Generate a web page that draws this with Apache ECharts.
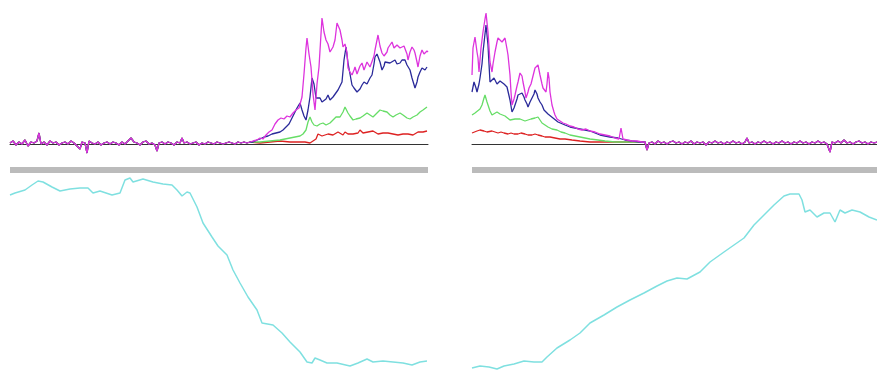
<!DOCTYPE html>
<html>
<head>
<meta charset="utf-8">
<script src="https://cdn.jsdelivr.net/npm/echarts@6/dist/echarts.min.js"></script>
<style>
  html, body { margin: 0; padding: 0; background: #fff; }
  #chart { width: 877px; height: 371px; }
</style>
</head>
<body>
<div id="chart"></div>
<script>
// baseline noise shared by all four traces (left sweep, before the signal rises)
const flatLeft = [
  [0,1],[3,3],[6,-1],[9,2],[12,0],[15,4],[18,-2],[21,2],[24,1],[27,3],[29,11],[31,0],[34,2],[37,-1],
  [40,3],[43,1],[46,2],[49,-1],[52,1],[55,2],[58,0],[61,3],[64,1],[67,-2],[70,-5],[72,2],[75,1],[77,-9],
  [79,3],[82,1],[85,0],[88,2],[91,-1],[94,1],[97,2],[100,0],[103,2],[106,1],[109,-1],[112,2],[115,0],
  [118,3],[121,6],[124,2],[127,1],[130,-1],[133,2],[136,3],[139,0],[142,1],[145,-1],[147,-7],[149,1],
  [152,2],[155,0],[158,2],[161,1],[164,-1],[167,2],[170,1],[172,6],[174,1],[177,2],[180,0],[183,1],
  [186,2],[189,-1],[192,1],[195,0],[198,2],[201,1],[204,0],[207,2],[210,1],[213,0],[216,1],[219,2],
  [222,1],[225,0],[228,2],[231,1],[234,2],[237,1],[240,2]
];
// baseline noise after the signal dies out (right sweep)
const flatRight = [
  [173,2],[175,-6],[177,1],[180,2],[183,0],[186,3],[189,1],[192,2],[195,0],[198,2],[201,3],[204,1],
  [207,2],[210,0],[213,2],[216,1],[219,3],[222,0],[225,2],[228,1],[231,2],[234,-1],[237,2],[240,1],
  [243,3],[246,1],[249,2],[252,0],[255,2],[258,1],[261,3],[264,1],[267,2],[270,0],[273,2],[275,6],
  [277,1],[280,2],[283,0],[286,2],[289,1],[292,3],[295,1],[298,2],[301,0],[304,2],[307,1],[310,3],
  [313,1],[316,2],[319,0],[322,2],[325,1],[328,3],[331,1],[334,2],[337,0],[340,2],[343,1],[346,3],
  [349,1],[352,2],[355,0],[358,-8],[360,2],[363,1],[366,3],[369,1],[372,4],[375,1],[378,2],[381,0],
  [384,2],[387,3],[390,1],[393,2],[396,0],[399,2],[402,1],[405,2]
];

const magentaLeft = [
  [243,3],[247,4],[250,6],[253,5],[256,9],[259,12],[262,14],[265,20],[268,24],[271,26],[274,25],[277,28],
  [280,27],[283,31],[286,34],[289,36],[292,47],[294,70],[296,96],[297,106],[299,90],[301,77],[303,50],
  [305,34],[307,60],[309,77],[311,110],[312,126],[314,112],[316,104],[318,100],[320,92],[323,97],[325,104],
  [327,121],[328,122],[330,114],[332,104],[333,97],[335,100],[337,91],[338,76],[340,72],[342,69],[344,74],
  [345,77],[347,70],[348,72],[350,78],[352,81],[354,74],[355,76],[357,82],[358,84],[360,77],[362,79],
  [364,88],[365,94],[367,104],[368,109],[370,98],[372,91],[374,88],[375,86],[377,92],[378,96],[380,99],
  [382,102],[384,96],[385,94],[387,99],[388,99],[390,96],[392,94],[394,98],[395,97],[397,90],[398,84],
  [400,92],[402,97],[404,94],[405,91],[407,82],[408,77],[410,88],[412,94],[414,90],[415,89],[417,93],[418,92]
];
const blueLeft = [
  [243,2],[247,4],[250,5],[254,7],[258,8],[262,10],[266,11],[270,12],[273,14],[276,17],[279,20],[281,24],
  [284,30],[287,36],[290,41],[292,34],[294,28],[296,24],[298,34],[300,47],[302,66],[304,60],[306,46],
  [308,44],[310,46],[312,42],[314,41],[316,45],[318,49],[320,44],[323,47],[325,49],[328,54],[330,58],
  [332,62],[334,84],[336,97],[338,81],[340,70],[342,59],[344,56],[345,54],[347,52],[348,51],[350,55],
  [352,59],[354,62],[355,64],[357,60],[358,61],[360,66],[362,69],[364,80],[365,87],[367,90],[368,91],
  [370,82],[372,74],[374,78],[375,82],[377,80],[380,81],[382,83],[385,84],[387,80],[390,81],[392,84],
  [395,84],[397,79],[400,74],[402,66],[405,56],[407,62],[408,67],[410,72],[412,76],[415,74],[417,77]
];
const greenLeft = [
  [250,2],[260,3],[270,4],[280,6],[285,7],[290,8],[293,10],[296,14],[298,22],[300,27],[302,22],[304,19],
  [307,18],[310,20],[313,21],[316,19],[320,21],[323,24],[326,27],[330,27],[333,32],[335,37],[337,36],
  [338,31],[340,28],[343,24],[346,25],[350,26],[353,28],[357,31],[360,29],[363,27],[366,30],[370,34],
  [373,33],[377,32],[380,29],[383,27],[386,29],[390,31],[393,29],[397,26],[400,25],[403,27],[407,29],
  [410,32],[413,34],[417,37]
];
const redLeft = [
  [250,1],[260,2],[270,3],[280,2],[290,2],[295,2],[300,1],[303,3],[306,5],[308,10],[310,11],[312,8],
  [315,9],[318,10],[320,12],[323,9],[325,10],[328,12],[330,11],[333,9],[335,12],[338,10],[340,12],
  [343,10],[345,9],[348,11],[350,14],[353,11],[355,10],[358,12],[360,11],[363,13],[365,12],[368,10],
  [370,12],[373,11],[375,13],[378,11],[380,12],[383,10],[385,11],[388,9],[390,11],[393,10],[395,12],
  [398,10],[400,11],[403,9],[405,11],[408,12],[410,10],[413,12],[417,13]
];

const magentaRight = [
  [0,69],[1,96],[3,107],[5,92],[6,86],[7,72],[9,96],[11,112],[13,125],[14,131],[16,112],[18,82],[20,72],
  [21,80],[23,92],[25,102],[26,106],[28,107],[30,102],[32,104],[33,106],[35,95],[36,89],[38,69],[39,52],
  [40,39],[42,45],[43,49],[45,58],[46,62],[48,71],[50,68],[51,62],[53,52],[54,46],[56,52],[57,56],
  [59,60],[60,62],[62,72],[63,76],[65,78],[66,79],[68,69],[70,60],[71,56],[73,54],[74,52],[75,60],
  [76,72],[77,66],[78,52],[80,39],[82,32],[83,29],[85,25],[86,24],[88,23],[91,21],[94,20],[98,18],
  [102,17],[106,15],[110,14],[114,15],[118,13],[123,12],[128,10],[133,9],[138,8],[143,6],[147,5],
  [149,16],[151,5],[155,4],[160,3],[165,3],[170,2]
];
const blueRight = [
  [0,52],[2,62],[4,56],[5,52],[7,60],[8,66],[10,80],[11,92],[13,110],[14,119],[16,99],[17,80],[18,62],
  [20,62],[22,66],[23,66],[25,60],[26,62],[28,63],[30,64],[32,60],[33,59],[35,57],[36,56],[38,44],
  [40,32],[42,36],[43,39],[45,45],[46,49],[48,51],[50,51],[52,47],[53,44],[55,40],[56,37],[58,42],
  [60,46],[62,50],[63,54],[65,50],[66,46],[68,42],[70,39],[72,34],[73,32],[76,30],[78,29],[81,26],
  [83,24],[86,22],[88,21],[93,19],[98,17],[103,16],[108,15],[113,14],[118,13],[123,11],[128,9],[133,8],
  [138,7],[146,6],[153,4],[160,3],[168,2]
];
const greenRight = [
  [0,29],[3,31],[5,32],[8,35],[10,39],[12,46],[13,49],[15,42],[16,39],[18,33],[20,29],[22,31],[25,32],
  [28,30],[30,29],[33,28],[35,27],[38,24],[40,22],[43,25],[45,26],[48,25],[50,24],[53,23],[56,24],
  [59,25],[63,26],[65,27],[66,27],[68,24],[70,21],[73,19],[76,17],[80,15],[85,14],[89,12],[93,11],
  [98,9],[103,8],[108,7],[113,6],[118,5],[126,4],[133,3],[143,2]
];
const redRight = [
  [0,11],[2,12],[5,13],[8,14],[10,15],[12,13],[15,12],[17,13],[20,13],[23,12],[26,11],[29,12],[32,11],
  [36,10],[39,11],[42,10],[46,10],[49,11],[53,10],[56,9],[60,9],[63,10],[66,9],[70,8],[73,7],[78,7],
  [83,6],[88,5],[93,5],[100,4],[108,3],[118,2],[128,2]
];

const cyanLeft = [
  [0,175],[5,177],[15,180],[22,185],[28,189],[33,188],[42,183],[50,179],[60,181],[70,182],[78,182],
  [83,177],[90,179],[102,175],[110,177],[115,190],[120,192],[123,188],[133,191],[143,188],[153,186],
  [162,185],[167,180],[172,174],[177,178],[180,177],[187,163],[193,147],[202,133],[208,124],[217,115],
  [223,100],[230,87],[238,73],[247,60],[252,47],[263,45],[272,37],[280,28],[290,18],[297,8],[302,7],
  [305,12],[310,10],[317,7],[327,7],[340,4],[348,7],[357,11],[363,8],[373,9],[383,8],[393,7],[402,5],
  [410,8],[417,9]
];
const cyanRight = [
  [0,2],[8,4],[17,3],[25,1],[32,4],[42,6],[52,9],[62,8],[70,8],[75,13],[85,22],[98,30],[108,37],
  [118,47],[132,55],[145,63],[158,70],[172,77],[185,84],[195,89],[205,92],[215,91],[228,98],[238,108],
  [252,118],[262,125],[272,132],[282,145],[292,155],[302,165],[312,174],[318,176],[327,176],[330,170],
  [333,158],[338,160],[345,153],[352,157],[358,157],[363,148],[368,160],[373,157],[380,160],[388,158],
  [397,153],[405,150]
];

const chart = echarts.init(document.getElementById('chart'));

const hidden = { show: false };
const xTop = (idx, max) => ({
  gridIndex: idx, type: 'value', min: 0, max: max,
  axisLine: { show: true, onZero: true, lineStyle: { color: '#333', width: 1 } },
  axisTick: hidden, axisLabel: hidden, splitLine: hidden
});
const xBottom = (idx, max) => ({
  gridIndex: idx, type: 'value', min: 0, max: max, position: 'top',
  axisLine: { show: true, onZero: false, lineStyle: { color: '#bbbbbb', width: 6, cap: 'butt' } },
  axisTick: hidden, axisLabel: hidden, splitLine: hidden
});
const yAx = (idx, min, max) => ({
  gridIndex: idx, type: 'value', min: min, max: max,
  axisLine: hidden, axisTick: hidden, axisLabel: hidden, splitLine: hidden
});

const line = (name, data, color, idx, width) => ({
  name: name, type: 'line', data: data, xAxisIndex: idx, yAxisIndex: idx,
  showSymbol: false, animation: false,
  lineStyle: { color: color, width: width || 1.3 }
});

const option = {
  animation: false,
  grid: [
    { left: 10, top: 10, width: 418, height: 144 },
    { left: 472, top: 10, width: 405, height: 144 },
    { left: 10, top: 170, width: 418, height: 200 },
    { left: 472, top: 170, width: 405, height: 200 }
  ],
  xAxis: [xTop(0, 418), xTop(1, 405), xBottom(2, 418), xBottom(3, 405)],
  yAxis: [yAx(0, -10, 134), yAx(1, -10, 134), yAx(2, 0, 200), yAx(3, 0, 200)],
  series: [
    line('red', flatLeft.concat(redLeft), '#dd2222', 0),
    line('green', flatLeft.concat(greenLeft), '#66dd66', 0),
    line('blue', flatLeft.concat(blueLeft), '#2a2a9a', 0),
    line('magenta', flatLeft.concat(magentaLeft), '#dd33dd', 0),
    line('red', redRight.concat(flatRight), '#dd2222', 1),
    line('green', greenRight.concat(flatRight), '#66dd66', 1),
    line('blue', blueRight.concat(flatRight), '#2a2a9a', 1),
    line('magenta', magentaRight.concat(flatRight), '#dd33dd', 1),
    line('cyan', cyanLeft, '#7fe0e0', 2, 1.5),
    line('cyan', cyanRight, '#7fe0e0', 3, 1.5)
  ]
};

chart.setOption(option);
</script>
</body>
</html>
